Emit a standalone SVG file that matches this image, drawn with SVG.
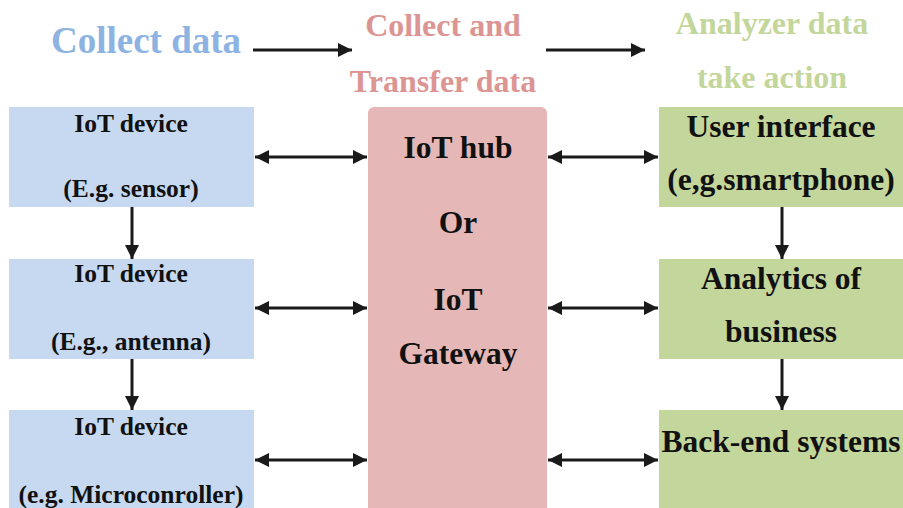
<svg xmlns="http://www.w3.org/2000/svg" width="903" height="508" viewBox="0 0 903 508">
  <defs>
    <marker id="ah" viewBox="0 0 10 10" refX="10" refY="5" markerWidth="14" markerHeight="14" markerUnits="userSpaceOnUse" orient="auto-start-reverse">
      <path d="M0,0 L10,5 L0,10 z" fill="#1a1a1a"/>
    </marker>
  </defs>
  <style>
    text { font-family: 'Liberation Serif', 'DejaVu Serif', serif; font-weight: bold; text-anchor: middle; }
    .hd { font-size: 37px; }
    .hd2 { font-size: 32px; }
    .blue { fill: #8db3e2; }
    .pink { fill: #dc9593; }
    .green { fill: #c3d69b; }
    .dev rect { fill: #c6d9f0; }
    .hub rect { fill: #e5b8b7; }
    .out rect { fill: #c3d69b; }
    .sm { font-size: 25.5px; fill: #111; }
    .md { font-size: 31.5px; fill: #111; }
    .conn line { stroke: #1a1a1a; stroke-width: 3; }
  </style>
  <rect width="903" height="508" fill="#ffffff"/>

  <!-- column headings -->
  <g id="heading-collect">
    <text class="hd blue" x="146" y="53">Collect data</text>
  </g>
  <g id="heading-transfer">
    <text class="hd2 pink" x="443" y="36">Collect and</text>
    <text class="hd2 pink" x="443" y="92">Transfer data</text>
  </g>
  <g id="heading-analyze">
    <text class="hd2 green" x="772" y="34">Analyzer data</text>
    <text class="hd2 green" x="772" y="88">take action</text>
  </g>

  <!-- devices -->
  <g id="device-sensor" class="dev">
    <rect x="9" y="107" width="245" height="100"/>
    <text class="sm" x="131" y="132">IoT device</text>
    <text class="sm" x="131" y="197">(E.g. sensor)</text>
  </g>
  <g id="device-antenna" class="dev">
    <rect x="9" y="259" width="245" height="100"/>
    <text class="sm" x="131" y="282">IoT device</text>
    <text class="sm" x="131" y="350">(E.g., antenna)</text>
  </g>
  <g id="device-mcu" class="dev">
    <rect x="9" y="410" width="245" height="100"/>
    <text class="sm" x="131" y="435">IoT device</text>
    <text class="sm" x="131" y="503">(e.g. Microconroller)</text>
  </g>

  <!-- hub / gateway -->
  <g id="hub" class="hub">
    <rect x="368" y="107" width="179" height="410" rx="6"/>
    <text class="md" x="458" y="158">IoT hub</text>
    <text class="md" x="458" y="233">Or</text>
    <text class="md" x="458" y="310">IoT</text>
    <text class="md" x="458" y="364">Gateway</text>
  </g>

  <!-- outputs -->
  <g id="user-interface" class="out">
    <rect x="659" y="107" width="250" height="100"/>
    <text class="md" x="781" y="137">User interface</text>
    <text class="md" x="781" y="190">(e,g.smartphone)</text>
  </g>
  <g id="analytics" class="out">
    <rect x="659" y="259" width="250" height="100"/>
    <text class="md" x="781" y="289">Analytics of</text>
    <text class="md" x="781" y="342">business</text>
  </g>
  <g id="backend" class="out">
    <rect x="659" y="410" width="250" height="100"/>
    <text class="md" x="781" y="452">Back-end systems</text>
  </g>

  <!-- connectors -->
  <g id="connectors" class="conn">
    <line x1="253" y1="50" x2="352" y2="50" marker-end="url(#ah)"/>
    <line x1="546" y1="50" x2="645" y2="50" marker-end="url(#ah)"/>

    <line x1="255" y1="157" x2="367" y2="157" marker-start="url(#ah)" marker-end="url(#ah)"/>
    <line x1="255" y1="308" x2="367" y2="308" marker-start="url(#ah)" marker-end="url(#ah)"/>
    <line x1="255" y1="460" x2="367" y2="460" marker-start="url(#ah)" marker-end="url(#ah)"/>

    <line x1="548" y1="157" x2="658" y2="157" marker-start="url(#ah)" marker-end="url(#ah)"/>
    <line x1="548" y1="308" x2="658" y2="308" marker-start="url(#ah)" marker-end="url(#ah)"/>
    <line x1="548" y1="460" x2="658" y2="460" marker-start="url(#ah)" marker-end="url(#ah)"/>

    <line x1="132" y1="207" x2="132" y2="259" marker-end="url(#ah)"/>
    <line x1="132" y1="359" x2="132" y2="410" marker-end="url(#ah)"/>
    <line x1="782" y1="207" x2="782" y2="259" marker-end="url(#ah)"/>
    <line x1="782" y1="359" x2="782" y2="410" marker-end="url(#ah)"/>
  </g>
</svg>
